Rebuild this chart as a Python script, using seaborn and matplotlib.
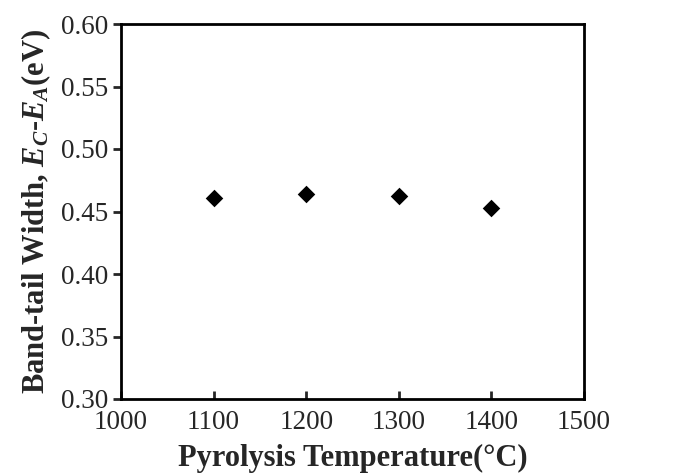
import matplotlib
matplotlib.use("Agg")
import matplotlib.pyplot as plt
import seaborn as sns
import pandas as pd

temperature = [1100, 1200, 1300, 1400]
band_tail_width = [0.461, 0.4637, 0.4624, 0.4525]
x_ticks = [1000, 1100, 1200, 1300, 1400, 1500]
y_ticks = [0.30, 0.35, 0.40, 0.45, 0.50, 0.55, 0.60]

sns.set_style("white")
plt.rcParams['font.family'] = ['Liberation Serif', 'DejaVu Serif']
plt.rcParams['mathtext.fontset'] = 'custom'
plt.rcParams['mathtext.rm'] = 'Liberation Serif'
plt.rcParams['mathtext.it'] = 'Liberation Serif:italic:bold'
plt.rcParams['mathtext.bf'] = 'Liberation Serif:bold'

df = pd.DataFrame({"T": temperature, "W": band_tail_width})

fig = plt.figure(figsize=(6.73, 4.74), dpi=100)
ax = fig.add_axes([121/673, 1 - 399/474, (584-121)/673, (399-24)/474])
sns.scatterplot(data=df, x="T", y="W", marker="D", s=80, color="black",
                edgecolor="black", linewidth=0, ax=ax)
ax.set_xlim(1000, 1500)
ax.set_ylim(0.30, 0.60)
ax.set_xticks(x_ticks)
ax.set_xticklabels([str(t) for t in x_ticks])
ax.set_yticks(y_ticks)
ax.set_yticklabels([f"{v:.2f}" for v in y_ticks])
for s in ax.spines.values():
    s.set_visible(True)
    s.set_linewidth(2.0)
    s.set_color("black")
ax.tick_params(axis='y', direction='out', length=6, width=2, labelsize=19.5, pad=3, left=True)
ax.tick_params(axis='x', direction='in', length=6, width=2, labelsize=19.5, pad=8, bottom=True)
ax.set_xlabel("Pyrolysis Temperature(°C)", fontsize=22, fontweight='bold', labelpad=6)
ax.set_ylabel(r"Band-tail Width, $E_C$-$E_A$(eV)", fontsize=22, fontweight='bold', labelpad=6)
fig.savefig("out.png", dpi=100)
